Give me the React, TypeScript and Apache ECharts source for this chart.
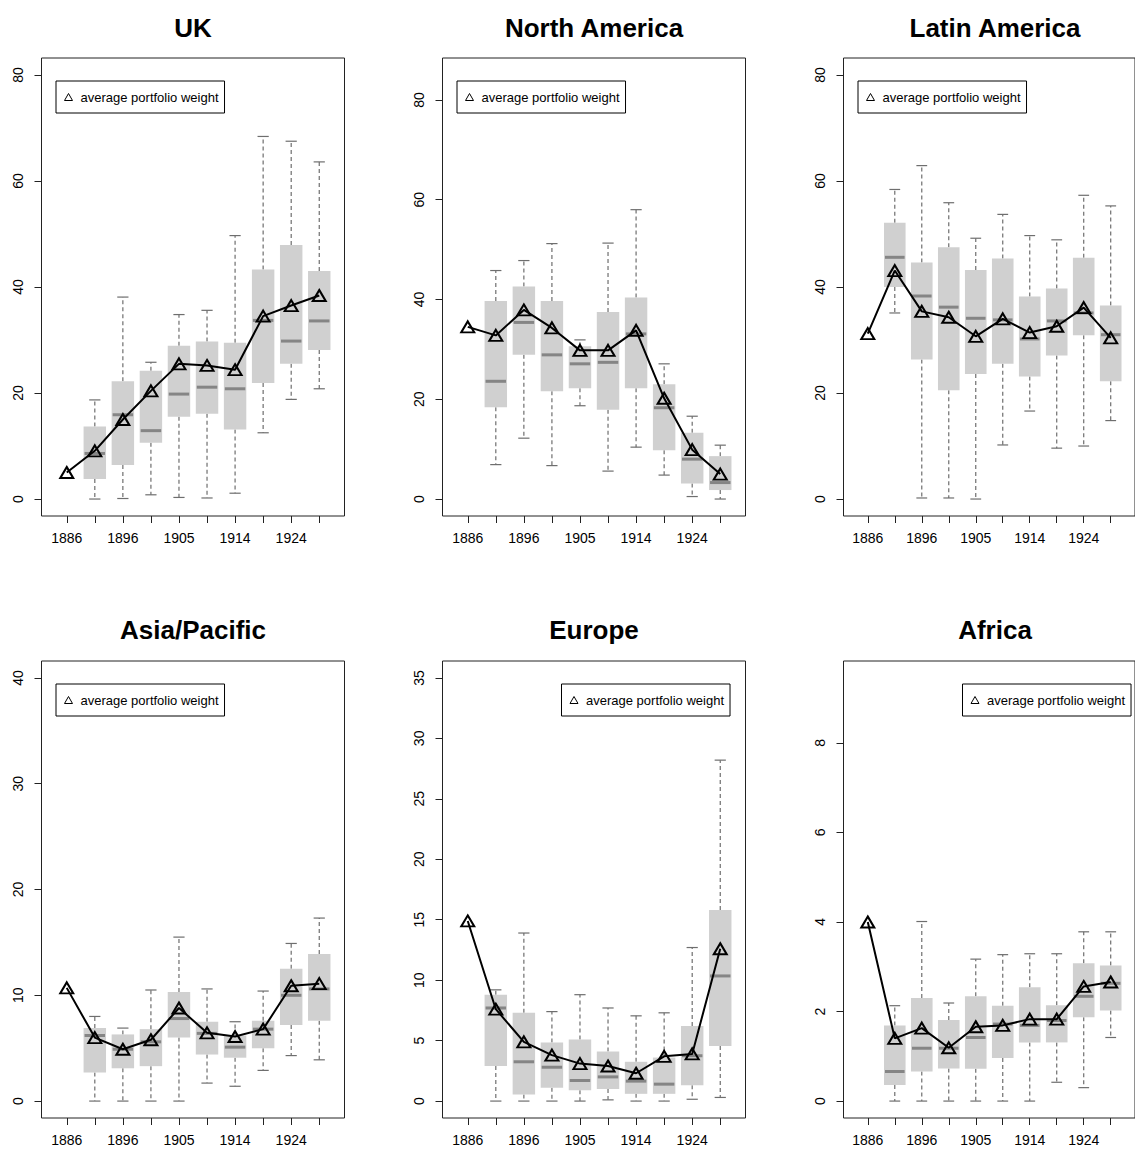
import React, { useEffect, useRef } from 'react';
import * as echarts from 'echarts';

// ---------- data ----------
const years = ['1886', '1891', '1896', '1900', '1905', '1909', '1914', '1919', '1924', '1929'];
const xLabelPositions = [1, 3, 5, 7, 9];
const legendName = 'average portfolio weight';

// box: [whisker min, Q1, median, Q3, whisker max]; first period has no box
const ukMean = [5.0, 9.1, 15.0, 20.4, 25.5, 25.2, 24.4, 34.5, 36.5, 38.4];
const ukBox = [
  null,
  [0, 3.8, 8.6, 13.7, 18.7],
  [0.1, 6.4, 15.9, 22.2, 38.1],
  [0.8, 10.6, 12.9, 24.2, 25.8],
  [0.3, 15.5, 19.8, 28.9, 34.8],
  [0.2, 16.1, 21.1, 29.7, 35.6],
  [1.1, 13.1, 20.8, 29.5, 49.7],
  [12.5, 21.9, 33.7, 43.3, 68.4],
  [18.8, 25.5, 29.8, 47.9, 67.5],
  [20.8, 28.1, 33.6, 43.0, 63.6],
];
const ukTicks = [0, 20, 40, 60, 80];

const naMean = [34.5, 32.8, 37.9, 34.3, 29.8, 29.8, 33.8, 20.2, 9.9, 5.0];
const naBox = [
  null,
  [6.9, 18.4, 23.6, 39.7, 45.8],
  [12.2, 28.9, 35.4, 42.6, 47.8],
  [6.7, 21.6, 28.9, 39.7, 51.2],
  [18.7, 22.2, 27.1, 30.6, 31.9],
  [5.6, 17.9, 27.4, 37.5, 51.3],
  [10.4, 22.2, 33.1, 40.4, 58.0],
  [4.8, 9.8, 18.3, 23.0, 27.1],
  [0.5, 3.1, 8.0, 13.3, 16.6],
  [0, 1.8, 3.3, 8.6, 10.8],
];
const naTicks = [0, 20, 40, 60, 80];

const laMean = [31.2, 43.1, 35.4, 34.3, 30.7, 34.0, 31.4, 32.6, 36.1, 30.4];
const laBox = [
  null,
  [35.1, 40.0, 45.6, 52.1, 58.4],
  [0.2, 26.3, 38.3, 44.6, 62.9],
  [0.2, 20.5, 36.2, 47.5, 55.9],
  [0, 23.6, 34.1, 43.2, 49.2],
  [10.2, 25.5, 33.8, 45.4, 53.7],
  [16.6, 23.1, 30.2, 38.2, 49.7],
  [9.6, 27.1, 33.6, 39.7, 48.9],
  [10.0, 30.9, 35.1, 45.5, 57.3],
  [14.8, 22.2, 31.0, 36.5, 55.3],
];
const laTicks = [0, 20, 40, 60, 80];

const apMean = [10.7, 6.0, 4.9, 5.8, 8.8, 6.45, 6.1, 6.8, 10.9, 11.1];
const apBox = [
  null,
  [0, 2.7, 6.2, 6.9, 8.0],
  [0, 3.1, 4.9, 6.3, 6.9],
  [0, 3.3, 5.6, 6.8, 10.5],
  [0, 6.0, 7.8, 10.3, 15.5],
  [1.7, 4.4, 6.4, 7.5, 10.6],
  [1.4, 4.1, 5.1, 6.2, 7.5],
  [2.9, 5.0, 6.8, 7.6, 10.4],
  [4.3, 7.2, 10.0, 12.5, 14.9],
  [3.9, 7.6, 10.6, 13.9, 17.3],
];
const apTicks = [0, 10, 20, 30, 40];

const euMean = [14.9, 7.6, 4.9, 3.8, 3.1, 2.9, 2.3, 3.7, 3.9, 12.6];
const euBox = [
  null,
  [0, 2.9, 7.7, 8.8, 9.2],
  [0, 0.55, 3.25, 7.3, 13.9],
  [0, 1.1, 2.8, 4.85, 7.4],
  [0, 0.9, 1.7, 5.1, 8.8],
  [0.1, 1.0, 2.0, 4.1, 7.7],
  [0, 0.6, 1.65, 3.25, 7.05],
  [0, 0.6, 1.4, 3.6, 7.3],
  [0.15, 1.3, 3.75, 6.2, 12.7],
  [0.3, 4.55, 10.35, 15.8, 28.2],
];
const euTicks = [0, 5, 10, 15, 20, 25, 30, 35];

const afMean = [4.0, 1.4, 1.63, 1.19, 1.66, 1.69, 1.83, 1.83, 2.56, 2.66];
const afBox = [
  null,
  [0, 0.36, 0.66, 1.69, 2.13],
  [0, 0.66, 1.18, 2.3, 4.01],
  [0, 0.73, 1.18, 1.81, 2.19],
  [0, 0.72, 1.42, 2.34, 3.17],
  [0, 0.96, 1.72, 2.13, 3.27],
  [0, 1.31, 1.69, 2.54, 3.29],
  [0.42, 1.31, 1.8, 2.14, 3.29],
  [0.3, 1.87, 2.34, 3.08, 3.78],
  [1.42, 2.02, 2.63, 3.03, 3.78],
];
const afTicks = [0, 2, 4, 6, 8];

// ---------- layout / panel config ----------
const FONT = '"Liberation Sans", Arial, Helvetica, sans-serif';
const COL_LEFT = [41.5, 442.5, 843.5];
const ROW_TOP = [58, 661];
const ROW_H = [458, 457];
const GRID_W = 303;
const TITLE_Y = [27.5, 630];

const panels = [
  { title: 'UK', mean: ukMean, box: ukBox, ticks: ukTicks, yMin: -3.2, yMax: 83.2, row: 0, col: 0, legend: 'left' },
  { title: 'North America', mean: naMean, box: naBox, ticks: naTicks, yMin: -3.4, yMax: 88.4, row: 0, col: 1, legend: 'left' },
  { title: 'Latin America', mean: laMean, box: laBox, ticks: laTicks, yMin: -3.2, yMax: 83.2, row: 0, col: 2, legend: 'left' },
  { title: 'Asia/Pacific', mean: apMean, box: apBox, ticks: apTicks, yMin: -1.6, yMax: 41.6, row: 1, col: 0, legend: 'left' },
  { title: 'Europe', mean: euMean, box: euBox, ticks: euTicks, yMin: -1.4, yMax: 36.4, row: 1, col: 1, legend: 'right' },
  { title: 'Africa', mean: afMean, box: afBox, ticks: afTicks, yMin: -0.378, yMax: 9.828, row: 1, col: 2, legend: 'right' },
];

function renderBox(params: any, api: any) {
  const x = api.value(0);
  const mn = api.value(1);
  const q1 = api.value(2);
  const md = api.value(3);
  const q3 = api.value(4);
  const mx = api.value(5);
  const pMin = api.coord([x, mn]);
  const pQ1 = api.coord([x, q1]);
  const pMd = api.coord([x, md]);
  const pQ3 = api.coord([x, q3]);
  const pMax = api.coord([x, mx]);
  const halfW = api.size([0.8, 0])[0] / 2;
  const stapleHalf = halfW / 2;
  const cx = pMd[0];
  const whiskerStyle = { stroke: '#6e6e6e', lineWidth: 1.2, lineDash: [4, 3] };
  const stapleStyle = { stroke: '#6e6e6e', lineWidth: 1.2 };
  return {
    type: 'group',
    children: [
      { type: 'line', shape: { x1: cx, y1: pQ3[1], x2: cx, y2: pMax[1] }, style: whiskerStyle },
      { type: 'line', shape: { x1: cx, y1: pQ1[1], x2: cx, y2: pMin[1] }, style: whiskerStyle },
      { type: 'line', shape: { x1: cx - stapleHalf, y1: pMax[1], x2: cx + stapleHalf, y2: pMax[1] }, style: stapleStyle },
      { type: 'line', shape: { x1: cx - stapleHalf, y1: pMin[1], x2: cx + stapleHalf, y2: pMin[1] }, style: stapleStyle },
      {
        type: 'rect',
        shape: { x: cx - halfW, y: pQ3[1], width: halfW * 2, height: pQ1[1] - pQ3[1] },
        style: { fill: '#d0d0d0', stroke: 'none' },
      },
      {
        type: 'line',
        shape: { x1: cx - halfW + 1, y1: pMd[1], x2: cx + halfW - 1, y2: pMd[1] },
        style: { stroke: '#858585', lineWidth: 3 },
      },
    ],
  };
}

function buildOption() {
  const grid: any[] = [];
  const xAxis: any[] = [];
  const yAxis: any[] = [];
  const series: any[] = [];
  const legend: any[] = [];
  const graphic: any[] = [];

  panels.forEach((p, i) => {
    const left = COL_LEFT[p.col];
    const top = ROW_TOP[p.row];
    grid.push({
      left,
      top,
      width: GRID_W,
      height: ROW_H[p.row],
      show: true,
      borderColor: '#222',
      borderWidth: 1,
      backgroundColor: 'transparent',
      containLabel: false,
    });
    xAxis.push({
      type: 'value',
      gridIndex: i,
      min: 0.1,
      max: 10.9,
      axisLine: { show: false, onZero: false },
      axisTick: { show: true, length: 7, customValues: years.map((_, k) => k + 1), lineStyle: { color: '#222', width: 1 } },
      axisLabel: {
        show: true,
        customValues: xLabelPositions,
        formatter: (v: number) => years[Math.round(v) - 1] ?? '',
        fontSize: 14,
        fontFamily: FONT,
        color: '#000',
        margin: 15,
      },
      splitLine: { show: false },
    });
    yAxis.push({
      type: 'value',
      gridIndex: i,
      min: p.yMin,
      max: p.yMax,
      axisLine: { show: false, onZero: false },
      axisTick: { show: true, length: 7, customValues: p.ticks, lineStyle: { color: '#222', width: 1 } },
      axisLabel: {
        show: true,
        customValues: p.ticks,
        formatter: (v: number) => String(v),
        rotate: 90,
        fontSize: 14,
        fontFamily: FONT,
        color: '#000',
        margin: 17,
      },
      splitLine: { show: false },
    });
    series.push({
      type: 'custom',
      name: p.title + ' distribution',
      xAxisIndex: i,
      yAxisIndex: i,
      renderItem: renderBox,
      encode: { x: 0, y: [1, 2, 3, 4, 5] },
      data: p.box
        .map((b, k) => (b ? [k + 1, ...b] : null))
        .filter((d) => d !== null),
      z: 2,
      silent: true,
    });
    series.push({
      type: 'line',
      name: legendName,
      xAxisIndex: i,
      yAxisIndex: i,
      data: p.mean.map((v, k) => [k + 1, v]),
      symbol: 'triangle',
      symbolSize: [13, 11],
      showAllSymbol: true,
      lineStyle: { color: '#000', width: 2 },
      itemStyle: { color: 'rgba(0,0,0,0)', borderColor: '#000', borderWidth: 2 },
      z: 5,
    });
    const lg: any = {
      data: [legendName],
      orient: 'horizontal',
      top: top + 23,
      icon: 'triangle',
      itemWidth: 8,
      itemHeight: 7,
      itemStyle: { color: 'rgba(0,0,0,0)', borderColor: '#000', borderWidth: 1 },
      textStyle: { fontSize: 13, fontFamily: FONT, color: '#000', lineHeight: 14, padding: [0, 0, 0, 3] },
      padding: [9, 6, 9, 8],
      backgroundColor: '#fff',
      borderColor: '#000',
      borderWidth: 1,
      borderRadius: 0,
      selectedMode: false,
    };
    if (p.legend === 'left') {
      lg.left = left + 14.5;
    } else {
      lg.left = left + GRID_W - 15 - 169;
    }
    legend.push(lg);
    graphic.push({
      type: 'text',
      x: left + GRID_W / 2,
      y: TITLE_Y[p.row],
      style: {
        text: p.title,
        font: `bold 26px ${FONT}`,
        fill: '#000',
        textAlign: 'center',
        textVerticalAlign: 'middle',
      },
    });
  });

  return {
    animation: false,
    backgroundColor: '#fff',
    grid,
    xAxis,
    yAxis,
    series,
    legend,
    graphic,
  };
}

export default function App() {
  const ref = useRef<HTMLDivElement>(null);
  useEffect(() => {
    if (!ref.current) return;
    const chart = echarts.init(ref.current, null, { renderer: 'svg' });
    chart.setOption(buildOption() as any);
    return () => {
      chart.dispose();
    };
  }, []);
  return (
    <div
      ref={ref}
      style={{ position: 'absolute', left: 0, top: 0, width: 1135, height: 1149, background: '#fff' }}
    />
  );
}
